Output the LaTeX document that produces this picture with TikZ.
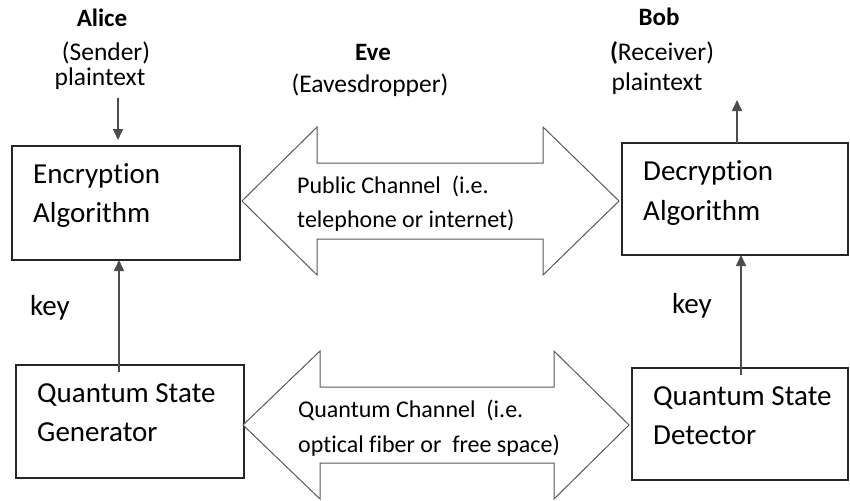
\documentclass[tikz,border=0pt]{standalone}
\usepackage{fontspec}
\setmainfont{Carlito}[Ligatures=NoCommon]
\usetikzlibrary{arrows.meta}
\begin{document}
\begin{tikzpicture}[x=1pt,y=-1pt,
  box/.style={draw=black!85,line width=1.3pt,inner sep=0pt,outer sep=0pt},
  boxtxt/.style={anchor=base west,inner sep=0pt,font=\fontsize{29}{34}\selectfont},
  lbl/.style={anchor=base,inner sep=0pt,font=\fontsize{25.5}{30}\selectfont},
  lblb/.style={anchor=base,inner sep=0pt,font=\fontsize{25}{30}\selectfont\bfseries},
  chtxt/.style={anchor=base west,inner sep=0pt,font=\fontsize{24}{28}\selectfont},
  flow/.style={draw=black!70,line width=1.6pt,-{Triangle[length=11pt,width=10pt]}},
  channel/.style={draw=black!65,line width=1pt,fill=white,line join=miter}]
\useasboundingbox (0,0) rectangle (850,500);

% boxes
\node[box,minimum width=228pt,minimum height=114pt] (enc) at (126,203) {};
\node[box,minimum width=226pt,minimum height=112pt] (dec) at (735,199) {};
\node[box,minimum width=228pt,minimum height=113pt] (gen) at (130,421.5) {};
\node[box,minimum width=216pt,minimum height=112pt] (det) at (740,424) {};

% channels
\draw[channel] (242,201) -- (317,127) -- (317,163) -- (543,163) -- (543,127) -- (619,201)
  -- (543,275) -- (543,239) -- (317,239) -- (317,275) -- cycle;
\draw[channel] (243,425) -- (320,351) -- (320,387) -- (554,387) -- (554,351) -- (629,425)
  -- (554,499) -- (554,463) -- (320,463) -- (320,499) -- cycle;

% flows
\coordinate (ptA) at (118,98);
\draw[flow,shorten >=6pt] (ptA) -- (ptA |- enc.north);
\coordinate (ptB) at (737,100);
\draw[flow] (ptB |- dec.north) -- (ptB);
\coordinate (kA) at (119,0);
\draw[flow] ([yshift=-7pt]kA |- gen.north) -- (kA |- enc.south);
\coordinate (kB) at (741,0);
\draw[flow] ([yshift=-7pt]kB |- det.north) -- (kB |- dec.south);

% labels
\node[lblb] (alice) at (102,27) {Alice};
\node[lbl] (sender) at (106,60.5) {(Sender)};
\node[lbl] (ptxtA) at (100,85.5) {plaintext};
\node[lblb] (eve) at (373,61) {Eve};
\node[lbl] (eaves) at (370,93) {(Eavesdropper)};
\node[lblb] (bob) at (659,26) {Bob};
\node[lbl] (recv) at (662,61) {{\bfseries(}Receiver)};
\node[lbl] (ptxtB) at (657,91) {plaintext};

% box texts
\node[boxtxt] (enc1) at (33,183) {Encryption};
\node[boxtxt] (enc2) at (33,222) {Algorithm};
\node[boxtxt] (dec1) at (643,180) {Decryption};
\node[boxtxt] (dec2) at (643,220) {Algorithm};
\node[boxtxt] (gen1) at (37,402) {Quantum State};
\node[boxtxt] (gen2) at (37,441) {Generator};
\node[boxtxt] (det1) at (653,405) {Quantum State};
\node[boxtxt] (det2) at (653,444) {Detector};
\node[boxtxt] (keyA) at (30,315) {key};
\node[boxtxt] (keyB) at (672,313) {key};

% channel texts
\node[chtxt] (pub1) at (297,193) {Public Channel\ \ (i.e.};
\node[chtxt] (pub2) at (297,227) {telephone or internet)};
\node[chtxt] (q1) at (298,417) {Quantum Channel\ \ (i.e.};
\node[chtxt] (q2) at (298,452) {optical fiber or\ \ free space)};
\end{tikzpicture}
\end{document}
